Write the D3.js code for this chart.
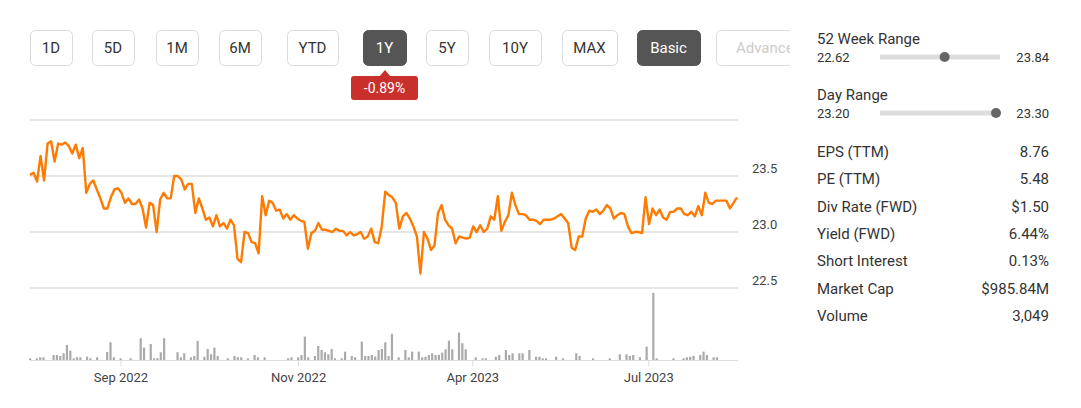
<!DOCTYPE html><html><head><meta charset="utf-8"><script src="https://cdn.jsdelivr.net/npm/d3@7"></script>
<style>body{margin:0;background:#fff;font-family:Roboto,Arial,sans-serif}</style></head><body><svg id="c" width="1081" height="408"></svg>
<script>
const prices=[23.51,23.53,23.45,23.68,23.46,23.79,23.81,23.63,23.79,23.78,23.80,23.77,23.70,23.78,23.66,23.75,23.35,23.43,23.46,23.38,23.30,23.21,23.21,23.31,23.38,23.39,23.35,23.26,23.30,23.25,23.25,23.29,23.21,23.04,23.26,23.24,23.00,23.29,23.35,23.30,23.30,23.50,23.50,23.47,23.38,23.43,23.43,23.17,23.30,23.21,23.11,23.13,23.05,23.15,23.05,23.08,23.03,23.11,23.06,22.76,22.73,23.00,22.99,22.91,22.90,22.81,23.32,23.15,23.28,23.26,23.19,23.20,23.12,23.16,23.11,23.15,23.12,23.10,23.09,22.85,22.99,23.01,23.08,23.02,23.02,23.01,23.00,23.03,23.01,23.01,22.97,23.00,22.97,22.98,23.00,22.94,22.96,23.03,22.91,22.90,23.05,23.36,23.33,23.31,23.26,
23.03,23.14,23.17,23.12,23.05,22.96,22.63,23.00,22.94,22.84,22.88,23.17,23.24,23.11,23.06,23.03,22.90,22.96,22.95,22.94,22.95,23.05,23.00,23.06,23.00,23.03,23.14,23.11,23.32,23.01,23.09,23.15,23.35,23.24,23.16,23.16,23.15,23.11,23.11,23.10,23.07,23.11,23.11,23.11,23.12,23.14,23.16,23.12,23.08,22.86,22.84,22.96,22.96,23.12,23.19,23.18,23.20,23.16,23.19,23.24,23.21,23.12,23.15,23.17,23.16,23.05,22.99,23.00,23.00,22.99,23.31,23.07,23.21,23.15,23.20,23.13,23.11,23.18,23.18,23.21,23.21,23.16,23.15,23.18,23.14,23.23,23.15,23.35,23.26,23.25,23.28,23.28,23.28,23.28,23.21,23.26,23.31];
const volDays=[0,2,3,4,7,8,9,10,11,12,13,14,15,17,18,20,23,24,25,27,30,33,34,36,37,38,39,40,44,45,46,48,49,50,52,53,54,55,56,59,61,62,63,65,67,68,70,77,78,80,81,82,83,85,86,87,88,89,90,91,93,94,96,97,99,100,101,102,103,104,105,106,107,108,110,112,113,114,116,117,118,119,120,121,122,123,124,125,126,128,129,130,133,135,136,139,140,142,143,144,146,147,149,151,152,153,154,157,159,163,164,168,173,176,178,179,180,182,184,186,187,192,195,196,197,198,200,201,202,204,205];
const volK=[1.7,1.7,2.7,2.7,5,5,4,6.7,15,9.3,1.7,2.7,2.7,3.3,1.7,2.7,8,17.7,2.7,1.7,1.7,21.7,12.3,16,1.7,1.7,7.7,21.7,7.7,2.7,6.7,2.7,4,19,3.3,11,5.7,12.3,4,1.7,4,2.7,2.7,1.7,5,2.7,2.7,1.7,2.7,2.7,5,23.3,2.7,4,14,10,7.7,5.7,11,1.7,1.7,8.3,4,2.7,18.3,4,4,5,3.3,10,11,17.7,4,26,2.7,10,2.7,8.3,8.3,2.7,3.3,5,6.7,5,5,7.3,10.7,19.3,10.7,27.3,16.7,10.7,2.7,1.7,1.7,3.3,5,10,5,6.7,6.7,6.7,10,3.3,3.3,1.7,1.7,3.3,1.7,6.7,4,1.7,1.7,5.7,5.7,4,5,2.7,13.3,66.7,1.7,1.7,1.7,2.7,3.3,4,5,8.3,5,2.7,2.7];
const totalDays=211;
const yTicks=[22.5,23.0,23.5,24.0];
const xTickDays=[27,80,132,184.5];
const xTickLabels=["Sep 2022","Nov 2022","Apr 2023","Jul 2023"];
const buttons=["1D","5D","1M","6M","YTD","1Y","5Y","10Y","MAX","Basic","Advanced"];
const btnX=[30,92,156,219,287,363,426,489,562,637,716];
const btnW=[42,42,42,42,51,43,42,52,55,63,90];
const activeBtn=["1Y","Basic"];
const changeLabel="-0.89%";
const ranges=[{name:"52 Week Range",lo:"22.62",hi:"23.84",lov:22.62,hiv:23.84,cur:23.30},{name:"Day Range",lo:"23.20",hi:"23.30",lov:23.20,hiv:23.30,cur:23.30}];
const statNames=["EPS (TTM)","PE (TTM)","Div Rate (FWD)","Yield (FWD)","Short Interest","Market Cap","Volume"];
const statValues=["8.76","5.48","$1.50","6.44%","0.13%","$985.84M","3,049"];

const svg=d3.select("#c");
const x=d3.scaleLinear().domain([0,prices.length-1]).range([30,737]);
const xd=d3.scaleLinear().domain([0,totalDays]).range([30,737]);
const y=d3.scaleLinear().domain([22.5,24.0]).range([288,120]);
const vy=d3.scaleLinear().domain([0,66.7]).range([360,293]);
svg.append("g").selectAll("line").data(yTicks).join("line").attr("x1",30).attr("x2",738).attr("y1",d=>y(d)).attr("y2",d=>y(d)).attr("stroke","#ddd").attr("stroke-width",1.3);
svg.append("g").selectAll("text").data(yTicks.filter(d=>d<24)).join("text").attr("x",752).attr("y",d=>y(d)-3).text(d=>d.toFixed(1)).attr("font-size",13).attr("fill","#444");
svg.append("g").selectAll("rect").data(volDays).join("rect").attr("x",d=>xd(d)-1).attr("width",2.2).attr("y",(d,i)=>vy(volK[i])).attr("height",(d,i)=>360-vy(volK[i])).attr("fill","#aaa");
svg.append("line").attr("x1",30).attr("x2",738).attr("y1",360.5).attr("y2",360.5).attr("stroke","#ddd");
const xa=svg.append("g").attr("transform","translate(0,360)").call(d3.axisBottom(xd).tickValues(xTickDays).tickFormat((d,i)=>xTickLabels[i]).tickSize(6));
xa.select(".domain").remove();xa.selectAll("line").attr("stroke","#ddd");xa.selectAll("text").attr("font-size",13).attr("fill","#444").attr("font-family","Roboto,Arial,sans-serif").attr("dy","1.0em");
svg.append("path").datum(prices).attr("d",d3.line().x((d,i)=>x(i)).y(d=>y(d))).attr("fill","none").attr("stroke","#ff7a00").attr("stroke-width",2.4).attr("stroke-linejoin","round");
const defs=svg.append("defs");const cp=defs.append("clipPath").attr("id","bc");cp.append("rect").attr("x",0).attr("y",0).attr("width",790).attr("height",408);
const bg=svg.append("g").attr("clip-path","url(#bc)");
buttons.forEach((b,i)=>{const act=activeBtn.includes(b);const adv=b==="Advanced";
 bg.append("rect").attr("x",btnX[i]+0.5).attr("y",30.5).attr("width",btnW[i]).attr("height",35).attr("rx",5).attr("fill",act?"#555":"#fff").attr("stroke",act?"#555":"#ddd");
 bg.append("text").attr("x",btnX[i]+btnW[i]/2+(adv?8:0)).attr("y",53).attr("text-anchor","middle").attr("font-size",15).attr("fill",act?"#fff":adv?"#ccc":"#333").text(b);});
svg.append("rect").attr("x",351).attr("y",76).attr("width",67).attr("height",24).attr("rx",3).attr("fill","#c9302c");
svg.append("path").attr("d","M379,77 L385,70 L391,77Z").attr("fill","#c9302c");
svg.append("text").attr("x",384.5).attr("y",93).attr("text-anchor","middle").attr("font-size",14).attr("fill","#fff").text(changeLabel);
ranges.forEach((r,i)=>{const y0=38+i*56;
 svg.append("text").attr("x",817).attr("y",y0+6).attr("font-size",15).attr("fill","#333").text(r.name);
 svg.append("text").attr("x",817).attr("y",y0+24).attr("font-size",13).attr("fill","#333").text(r.lo);
 svg.append("text").attr("x",1049).attr("y",y0+24).attr("text-anchor","end").attr("font-size",13).attr("fill","#333").text(r.hi);
 const s=d3.scaleLinear().domain([r.lov,r.hiv]).range([880,996]);
 svg.append("line").attr("x1",880).attr("x2",1000).attr("y1",y0+19).attr("y2",y0+19).attr("stroke","#ddd").attr("stroke-width",5);
 svg.append("circle").attr("cx",s(r.cur)).attr("cy",y0+19).attr("r",5).attr("fill","#666");});
statNames.forEach((n,i)=>{const yy=157+i*27.3;
 svg.append("text").attr("x",817).attr("y",yy).attr("font-size",15).attr("fill","#333").text(n);
 svg.append("text").attr("x",1049).attr("y",yy).attr("text-anchor","end").attr("font-size",15).attr("fill","#333").text(statValues[i]);});
</script></body></html>
